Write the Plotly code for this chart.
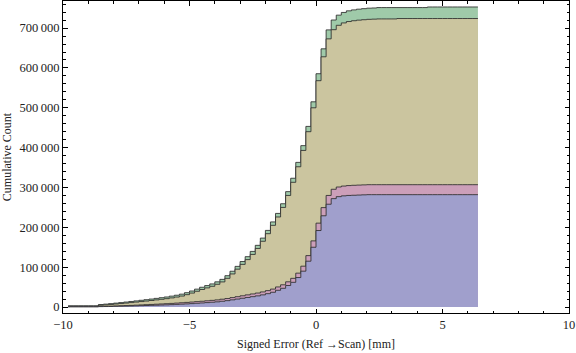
import plotly.graph_objects as go

# ---- data, thousands of counts per 0.2-wide bin ----
bin_start = -9.8
bin_width = 0.2

blue_cum = [0.5, 0.5, 0.5, 0.5, 0.5, 0.5, 1.0, 1.2, 1.4, 1.7, 2.0, 2.3, 2.6, 3.0, 3.4, 3.8,
            4.2, 4.6, 5.0, 5.5, 6.0, 6.6, 7.2, 7.9, 8.6, 9.4, 10.2, 11.1, 12.0, 13.0,
            14.5, 16.0, 18.0, 20.0, 22.0, 24.0, 26.0, 28.0, 30.5, 33.5, 37, 42, 47, 54,
            62, 74, 90, 115, 150, 192, 229, 258, 272, 277, 279, 280, 280.5, 281, 281.5,
            282, 282, 282, 282, 282, 282, 282, 282, 282, 282, 282, 282, 282, 282, 282,
            282, 282, 282, 282, 282, 282, 282]

pink_cum = [1.0, 1.0, 1.0, 1.0, 1.0, 1.0, 1.7, 2.0, 2.3, 2.7, 3.2, 3.6, 4.1, 4.7, 5.3, 5.9,
            6.5, 7.1, 7.7, 8.4, 9.1, 9.9, 10.7, 11.6, 12.5, 13.5, 14.5, 15.6, 16.7, 17.9,
            19.6, 21.3, 23.6, 25.9, 28.2, 30.5, 32.8, 35.1, 37.9, 41.2, 45, 50.4, 55.8,
            63.3, 72, 85, 102.5, 129, 166, 210.5, 249.5, 280, 295.5, 301.2, 303.6, 304.8,
            305.5, 306, 306.5, 307, 307, 307, 307, 307, 307, 307, 307, 307, 307, 307, 307,
            307, 307, 307, 307, 307, 307, 307, 307, 307, 307]

olive_cum = [2.0, 2.0, 2.0, 2.0, 2.0, 2.0, 4.6, 5.5, 6.5, 7.6, 8.7, 9.9, 11.1, 12.4, 13.7,
             15.0, 16.4, 17.9, 19.4, 21.0, 22.9, 25.0, 27.5, 31.0, 35.0, 39.5, 44.0, 48.0,
             52.0, 57.0, 63.0, 72.0, 83.0, 95.0, 107, 119, 132, 147, 165, 184, 205, 226,
             250, 280, 313, 352, 393, 440, 500, 568, 628, 673, 696, 707, 713, 716.5, 718.5,
             720, 721, 722, 722.5, 723, 723, 723, 723, 724, 724, 724, 724, 724, 724, 724,
             724, 724, 724, 724, 724, 724, 724, 724, 724]

green_cum = [3.0, 3.0, 3.0, 3.0, 3.0, 3.0, 6.2, 7.3, 8.5, 9.8, 11.1, 12.5, 13.9, 15.4, 16.9,
             18.4, 20.0, 21.7, 23.4, 25.2, 27.3, 29.6, 32.3, 36.0, 40.2, 44.9, 49.6, 53.8,
             58.0, 63.2, 69.4, 78.6, 89.8, 102, 114.2, 126.4, 139.6, 154.8, 173, 192.3,
             213.6, 234.9, 259.2, 289.6, 323.2, 363, 405, 453.3, 515, 585.5, 648, 695.5,
             720.3, 732.5, 739.3, 743.3, 745.7, 747.5, 748.8, 750, 750.5, 751.5, 751.5,
             751.5, 751.5, 751.5, 751.5, 751.5, 751.5, 751.5, 751.5, 753, 753, 753, 753,
             753, 753, 753, 753, 753, 753]

x_tick_vals = [-10, -5, 0, 5, 10]
x_tick_text = ["\u221210", "\u22125", "0", "5", "10"]
y_tick_vals = [0, 100000, 200000, 300000, 400000, 500000, 600000, 700000]
y_tick_text = ["0", "100\u2009000", "200\u2009000", "300\u2009000", "400\u2009000",
               "500\u2009000", "600\u2009000", "700\u2009000"]

series = [
    ("green", green_cum, "#9fcaa9"),
    ("olive", olive_cum, "#cbc59f"),
    ("pink", pink_cum, "#cc9fb9"),
    ("blue", blue_cum, "#a09fcc"),
]

n = len(blue_cum)
edges = [round(bin_start + i * bin_width, 4) for i in range(n + 1)]

fig = go.Figure()
for name, vals, col in series:
    yv = [v * 1000 for v in vals]
    yv = yv + [yv[-1]]
    fig.add_trace(go.Scatter(
        x=edges, y=yv, mode="lines", line=dict(shape="hv", color="rgba(45,45,45,0.85)", width=1),
        fill="tozeroy", fillcolor=col, name=name, showlegend=False, hoverinfo="skip"))

font_family = "Liberation Serif, DejaVu Serif, serif"
fig.update_layout(
    width=576, height=353,
    margin=dict(l=63, r=7, t=1, b=40, autoexpand=False),
    paper_bgcolor="white", plot_bgcolor="white",
    font=dict(family=font_family, size=12, color="#222"),
    showlegend=False,
)
fig.update_xaxes(
    range=[-10, 10], tickvals=x_tick_vals, ticktext=x_tick_text,
    ticks="inside", ticklen=4.5, tickwidth=1, tickcolor="black",
    showline=True, linecolor="black", linewidth=1, mirror="allticks",
    showgrid=False, zeroline=False, automargin=False,
    minor=dict(dtick=1, tick0=0, ticks="inside", ticklen=2.5, tickcolor="black", showgrid=False),
    title=dict(text="Signed Error (Ref \u2192Scan) [mm]", standoff=8, font=dict(size=12)),
    tickfont=dict(size=12.5),
)
fig.update_yaxes(
    range=[-15000, 768000], tickvals=y_tick_vals, ticktext=y_tick_text,
    ticks="inside", ticklen=4.5, tickwidth=1, tickcolor="black",
    showline=True, linecolor="black", linewidth=1, mirror="allticks",
    showgrid=False, zeroline=False, automargin=False,
    minor=dict(dtick=20000, tick0=0, ticks="inside", ticklen=2.5, tickcolor="black", showgrid=False),
    title=dict(text="Cumulative Count", standoff=6, font=dict(size=12)),
    tickfont=dict(size=12.5),
)

fig.write_html("out.html", config={"displayModeBar": False, "staticPlot": True},
               post_script="document.body.style.margin='0';document.body.style.padding='0';")
